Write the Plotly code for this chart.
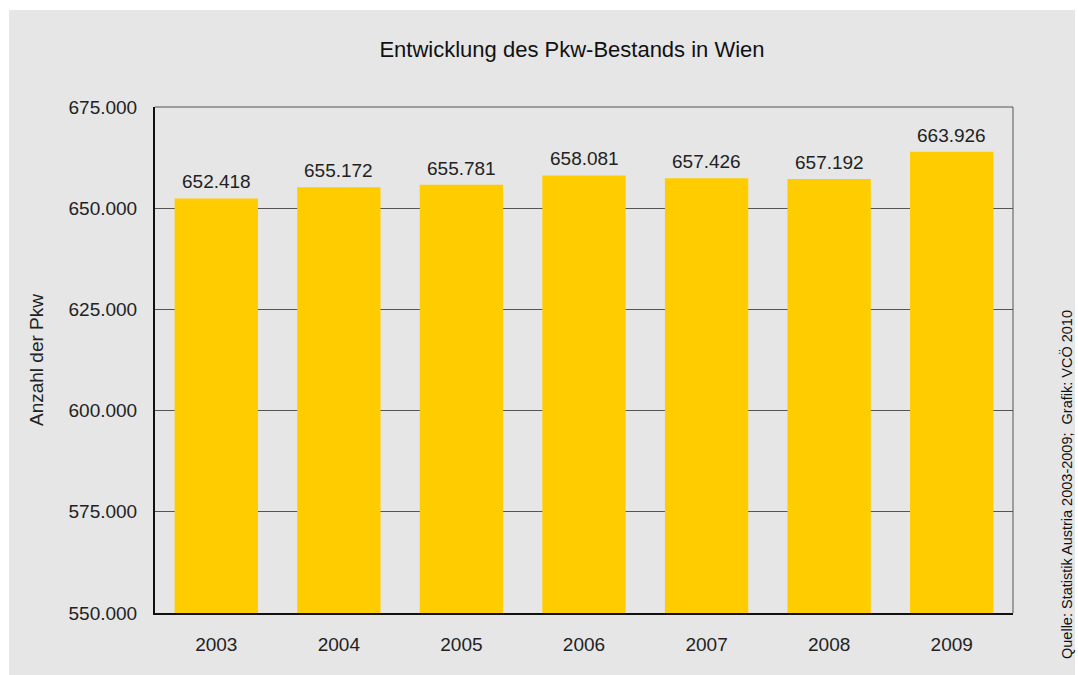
import plotly.graph_objects as go

# Pkw-Bestand in Wien, 2003-2009
years = ["2003", "2004", "2005", "2006", "2007", "2008", "2009"]
cars = [652418, 655172, 655781, 658081, 657426, 657192, 663926]
y_ticks = [550000, 575000, 600000, 625000, 650000, 675000]

title_text = "Entwicklung des Pkw-Bestands in Wien"
y_title = "Anzahl der Pkw"
source_text = "Quelle: Statistik Austria 2003-2009;  Grafik: VCÖ 2010"

W, H = 1078, 675
L, R, T, B = 155, 1013, 107, 613
FONT = "Liberation Sans, Arial, sans-serif"


def fmt_de(v):
    return f"{v:,.0f}".replace(",", ".")


fig = go.Figure(
    go.Bar(
        x=years,
        y=cars,
        marker=dict(color="#FFCC00", line=dict(width=0)),
        width=0.68,
        hovertemplate="%{x}: %{y:,.0f}<extra></extra>",
    )
)

# value labels above each bar (category index positions on the x axis)
annotations = [
    dict(
        x=i, y=v, text=fmt_de(v), showarrow=False,
        xref="x", yref="y", yanchor="bottom", yshift=4,
        font=dict(family=FONT, size=19, color="#222222"),
    )
    for i, v in enumerate(cars)
]

# source note, rotated, at the right edge
annotations.append(
    dict(
        text=source_text, textangle=-90,
        xref="paper", yref="paper",
        x=(1066 - L) / (R - L), y=(B - 485) / (B - T),
        xanchor="center", yanchor="middle", showarrow=False,
        font=dict(family=FONT, size=14.5, color="#111111"),
    )
)

fig.update_layout(
    width=W,
    height=H,
    separators=",.",
    paper_bgcolor="white",
    plot_bgcolor="#E6E6E6",
    margin=dict(l=L, r=W - R, t=T, b=H - B, pad=0),
    showlegend=False,
    font=dict(family=FONT, size=19, color="#222222"),
    title=dict(
        text=title_text,
        x=572 / W,
        xanchor="center",
        y=1 - 49 / H,
        yanchor="middle",
        font=dict(size=22, color="#111111"),
    ),
    shapes=[
        # light grey panel behind the whole chart
        dict(
            type="rect", xref="paper", yref="paper", layer="below",
            x0=(9 - L) / (R - L), x1=(1075 - L) / (R - L),
            y0=-(H - B) / (B - T), y1=1 + (T - 10) / (B - T),
            fillcolor="#E6E6E6", line=dict(width=0),
        ),
        # thin grey frame on top and right of the plot area
        dict(type="line", xref="paper", yref="paper", x0=0, x1=1, y0=1, y1=1,
             line=dict(color="#555555", width=1)),
        dict(type="line", xref="paper", yref="paper", x0=1, x1=1, y0=0, y1=1,
             line=dict(color="#555555", width=1)),
    ],
    annotations=annotations,
)

fig.update_xaxes(
    type="category",
    range=[-0.5, len(years) - 0.5],
    showline=True, linecolor="#111111", linewidth=2,
    ticks="", showgrid=False,
    ticklabelstandoff=13,
    tickfont=dict(size=19),
)
fig.update_yaxes(
    range=[550000, 675000],
    tickvals=y_ticks,
    tickformat=",.0f",
    showline=True, linecolor="#111111", linewidth=2,
    showgrid=True, gridcolor="#555555", gridwidth=1,
    ticks="", ticklabelstandoff=12,
    tickfont=dict(size=19),
    title=dict(text=y_title, font=dict(size=19), standoff=20),
)

fig.write_html("out.html")
